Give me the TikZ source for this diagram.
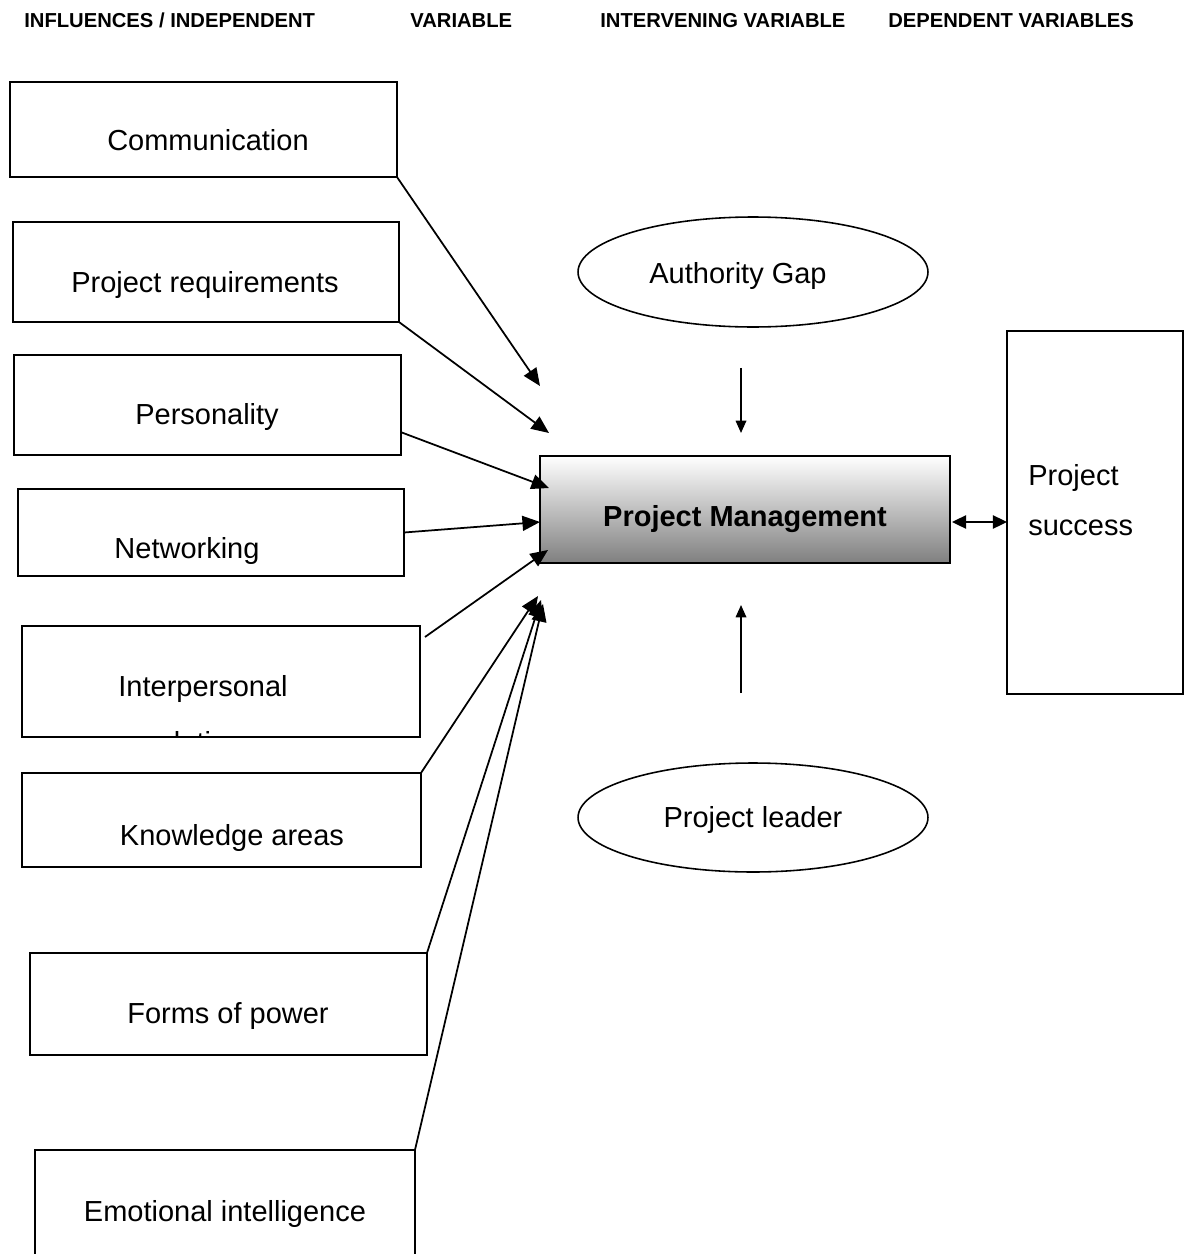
\documentclass[tikz,border=0pt]{standalone}
\usepackage{fontspec}
\setmainfont{Liberation Sans}
\usetikzlibrary{arrows.meta,shapes.geometric}

\begin{document}
\begin{tikzpicture}[x=0.02cm, y=-0.02cm,
  box/.style={draw, line width=0.9pt, inner sep=0pt, outer sep=0pt},
  oval/.style={draw, ellipse, line width=0.9pt, inner sep=0pt, outer sep=0pt, minimum width=7cm},
  txt/.style={anchor=base, inner sep=0pt, font=\fontsize{16.5}{20}\selectfont},
  head/.style={anchor=base west, inner sep=0pt, font=\fontsize{11.5}{13}\selectfont\bfseries},
  arr/.style={line width=1pt, -{Triangle[length=10pt, width=8.5pt]}},
  small arr/.style={line width=0.9pt, -{Triangle[length=7pt, width=6pt]}}]
\clip (0,0) rectangle (1187,1254);
% headings
\node[head] (h1) at (24,28) {INFLUENCES / INDEPENDENT};
\node[head] (h2) at (410,28) {VARIABLE};
\node[head] (h3) at (600,28) {INTERVENING VARIABLE};
\node[head] (h4) at (888,28) {DEPENDENT VARIABLES};
% influences
\node[box, minimum width=7.74cm, minimum height=1.9cm] (comm) at (203.5,129.5) {};
\node[txt] (commtxt) at (208,150) {Communication};
\node[box, minimum width=7.72cm, minimum height=2cm] (req) at (206,272) {};
\node[txt] (reqtxt) at (205,292) {Project requirements};
\node[box, minimum width=7.74cm, minimum height=2cm] (pers) at (207.5,405) {};
\node[txt] (perstxt) at (207,424) {Personality};
\node[box, minimum width=7.72cm, minimum height=1.74cm] (net) at (211,532.5) {};
\node[txt] (nettxt) at (187,558) {Networking};
\node[box, minimum width=7.96cm, minimum height=2.22cm] (interp) at (221,681.5) {};
\node[txt] (interptxt) at (203,696) {Interpersonal};
\begin{scope}
  \clip (22,626) rectangle (420,736);
  \node[txt] (reltxt) at (203,752) {relations};
\end{scope}
\node[box, minimum width=7.98cm, minimum height=1.88cm] (know) at (221.5,820) {};
\node[txt] (knowtxt) at (232,845) {Knowledge areas};
\node[box, minimum width=7.94cm, minimum height=2.04cm] (forms) at (228.5,1004) {};
\node[txt] (formstxt) at (228,1023) {Forms of power};
\node[box, minimum width=7.6cm, minimum height=2.8cm] (emot) at (225,1220) {};
\node[txt] (emottxt) at (225,1221) {Emotional intelligence};
% centre
\node[box, minimum width=8.2cm, minimum height=2.14cm, top color=white, bottom color=black!50] (pm) at (745,509.5) {};
\node[txt, font=\fontsize{16.5}{20}\selectfont\bfseries] (pmtxt) at (745,526) {Project Management};
\node[oval, minimum height=2.2cm] (auth) at (753,272) {};
\node[txt] (authtxt) at (738,283) {Authority Gap};
\node[oval, minimum height=2.18cm] (lead) at (753,817.5) {};
\node[txt] (leadtxt) at (753,827) {Project leader};
% dependent
\node[box, minimum width=3.52cm, minimum height=7.26cm] (succ) at (1095,512.5) {};
\node[txt, anchor=base west] (succ1) at (1028,485) {Project};
\node[txt, anchor=base west] (succ2) at (1028,535) {success};
% arrow ends
\coordinate (tcomm) at (540,386);
\coordinate (treq) at (549,433);
\coordinate (tpers) at (549,488);
\coordinate (tnet) at (540,522);
\coordinate (tinterp) at (548,550);
\coordinate (tknow) at (538,596);
\coordinate (tforms) at (541,600);
\coordinate (temot) at (543,604);
\coordinate (tauth) at (741,433);
\coordinate (tlead) at (741,605);
\draw[arr] (comm.south east) -- (tcomm);
\draw[arr] (req.south east) -- (treq);
\draw[arr] (pers.-8.5) -- (tpers);
\draw[arr] (net.east) -- (tnet);
\draw[arr] ([shift={(5,11)}]interp.north east) -- (tinterp);
\draw[arr] (know.north east) -- (tknow);
\draw[arr] (forms.north east) -- (tforms);
\draw[arr] (emot.north east) -- (temot);
\draw[small arr] ([shift={(-12,41)}]auth.south) -- (tauth);
\draw[small arr] ([shift={(-12,-70)}]lead.north) -- (tlead);
\draw[line width=1pt, {Triangle[length=8pt, width=7.5pt]}-{Triangle[length=8pt, width=7.5pt]}] ([shift={(2,12.5)}]pm.east) -- ([yshift=-0.19cm]succ.west);
\end{tikzpicture}
\end{document}
